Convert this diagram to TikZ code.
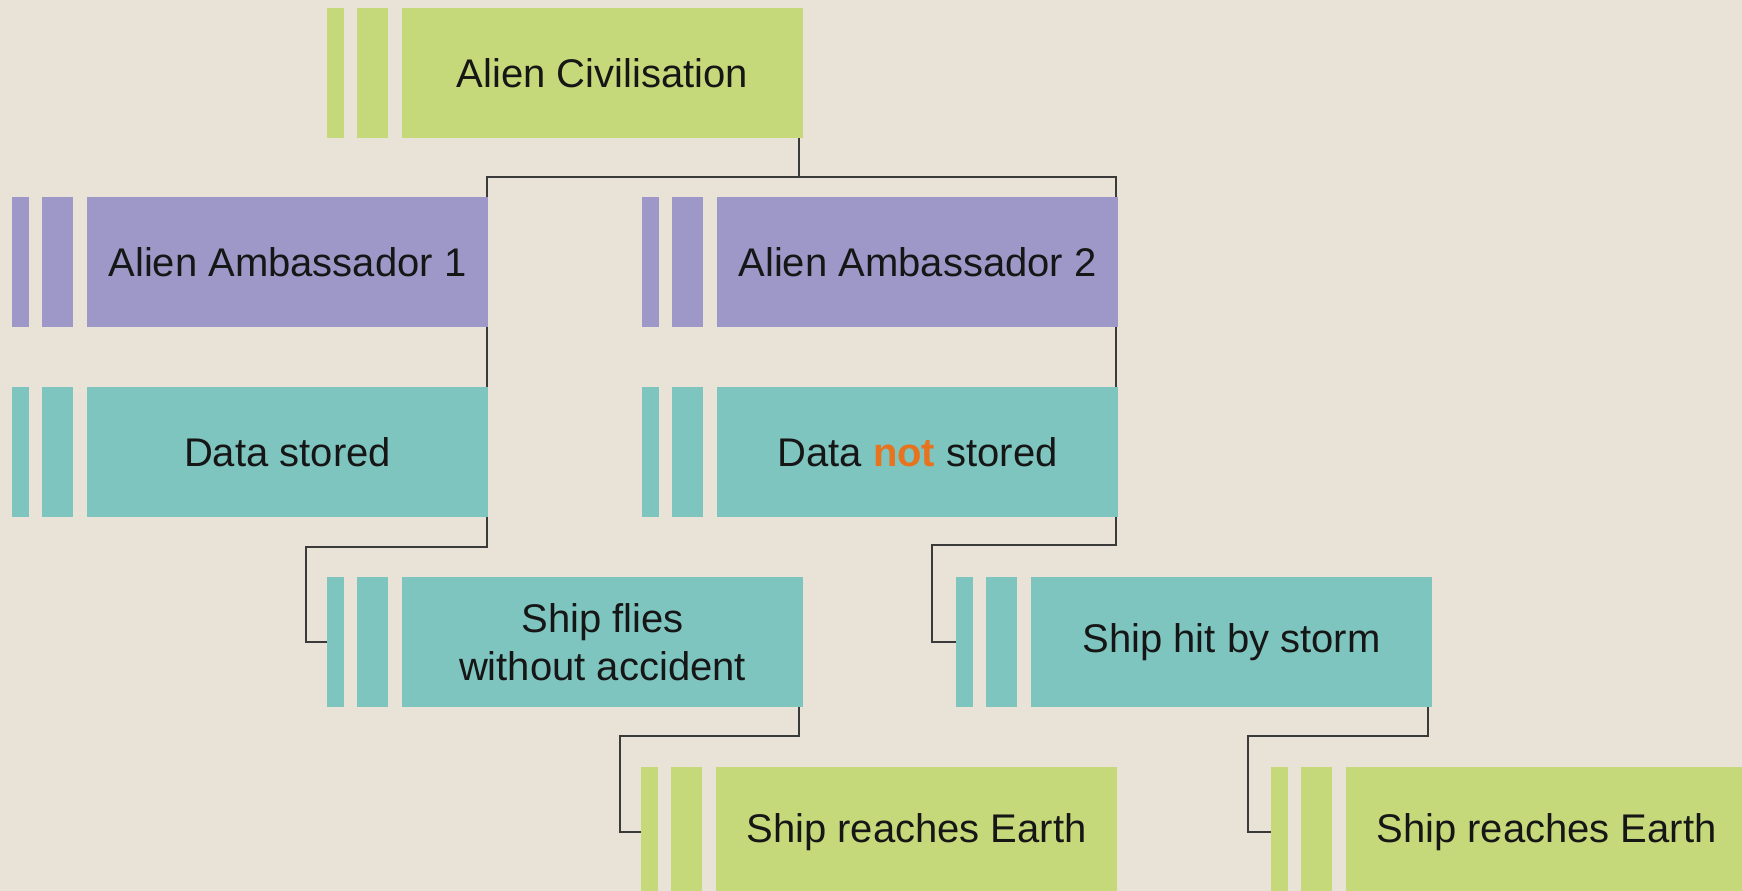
\documentclass[tikz,border=0pt]{standalone}
\usepackage{fontspec}
\setmainfont{Liberation Sans}
\usetikzlibrary{calc}
\definecolor{bg}{HTML}{E9E2D6}
\definecolor{lime}{HTML}{C6D97A}
\definecolor{lav}{HTML}{9D98C8}
\definecolor{teal2}{HTML}{7EC4BF}
\definecolor{ink}{HTML}{161616}
\definecolor{orng}{HTML}{E8731E}
\definecolor{wirec}{HTML}{3A3A3A}
\tikzset{
  mainbox/.style={rectangle, inner sep=0pt, outer sep=0pt, minimum width=401pt,
    minimum height=130pt, anchor=north west, text=ink,
    font=\fontsize{40}{48}\selectfont, align=center},
  stripa/.style={rectangle, inner sep=0pt, outer sep=0pt, minimum width=17pt,
    minimum height=130pt, anchor=north west},
  stripb/.style={rectangle, inner sep=0pt, outer sep=0pt, minimum width=31pt,
    minimum height=130pt, anchor=north west},
  wire/.style={draw=wirec, line width=1.5pt}
}
\newcommand\tbox[5]{%
  \node[mainbox, fill=#4] (#1) at (#2,#3) {#5};
  \node[stripb, fill=#4] (#1-s2) at ($(#1.north west)+(-45,0)$) {};
  \node[stripa, fill=#4] (#1-s1) at ($(#1.north west)+(-75,0)$) {};
}
\begin{document}
\begin{tikzpicture}[x=1pt,y=-1pt]
\useasboundingbox (0,0) rectangle (1742,891);
\clip (0,0) rectangle (1742,891);
\fill[bg] (0,0) rectangle (1742,891);

\tbox{civ}{402}{8}{lime}{Alien Civilisation}
\tbox{amb1}{87}{197}{lav}{Alien Ambassador 1}
\tbox{amb2}{717}{197}{lav}{Alien Ambassador 2}
\tbox{ds}{87}{387}{teal2}{Data stored}
\tbox{dns}{717}{387}{teal2}{Data \textcolor{orng}{\bfseries not} stored}
\tbox{flies}{402}{577}{teal2}{Ship flies\\without accident}
\tbox{storm}{1031}{577}{teal2}{Ship hit by storm}
\tbox{r1}{716}{767}{lime}{Ship reaches Earth}
\tbox{r2}{1346}{767}{lime}{Ship reaches Earth}

\coordinate (j0) at ($(civ.south east)+(-4,39)$);
\draw[wire] ([xshift=-4pt]civ.south east) -- (j0) -| ([xshift=-1pt]amb1.north east);
\draw[wire] (j0) -| ([xshift=-2pt]amb2.north east);
\draw[wire] ([xshift=-1pt]amb1.south east) -- ([xshift=-1pt]ds.north east);
\draw[wire] ([xshift=-2pt]amb2.south east) -- ([xshift=-2pt]dns.north east);
\draw[wire] ([xshift=-1pt]ds.south east) -- ++(0,30) -| ($(flies-s1.west)+(-21,0)$) -- (flies-s1.west);
\draw[wire] ([xshift=-2pt]dns.south east) -- ++(0,28) -| ($(storm-s1.west)+(-24,0)$) -- (storm-s1.west);
\draw[wire] ([xshift=-4pt]flies.south east) -- ++(0,29) -| ($(r1-s1.west)+(-21,0)$) -- (r1-s1.west);
\draw[wire] ([xshift=-4pt]storm.south east) -- ++(0,29) -| ($(r2-s1.west)+(-23,0)$) -- (r2-s1.west);
\end{tikzpicture}
\end{document}
